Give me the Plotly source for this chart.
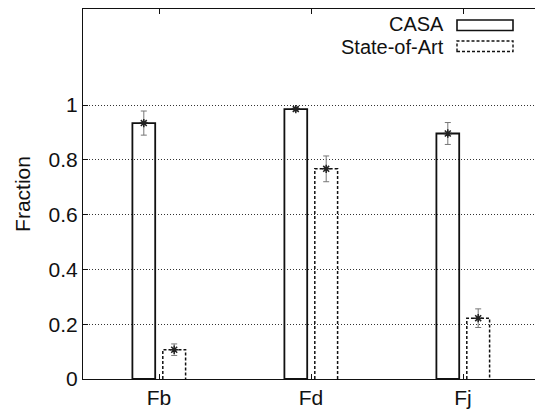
import plotly.graph_objects as go

categories = ["Fb", "Fd", "Fj"]
casa_values = [0.934, 0.985, 0.896]
casa_errors = [0.044, 0.007, 0.040]
sota_values = [0.107, 0.767, 0.222]
sota_errors = [0.021, 0.047, 0.034]
ytick_vals = [0, 0.2, 0.4, 0.6, 0.8, 1]
ytick_text = ["0", "0.2", "0.4", "0.6", "0.8", "1"]

FONT = "Liberation Sans, Arial, Helvetica, sans-serif"
FS = 21
BARGAP = 0.6
GROUPGAP = 0.25
slot = (1 - BARGAP) / 2
bar_w = slot * (1 - GROUPGAP)
xs = list(range(len(categories)))
casa_x = [i - slot / 2 for i in xs]
sota_x = [i + slot / 2 for i in xs]

fig = go.Figure()
fig.add_trace(go.Bar(x=xs, y=casa_values, name="CASA", offsetgroup="a",
                     marker=dict(color="rgba(0,0,0,0)", line=dict(color="#111", width=1.8)),
                     showlegend=False))
fig.add_trace(go.Bar(x=xs, y=sota_values, name="State-of-Art", offsetgroup="b",
                     marker=dict(color="rgba(0,0,0,0)", line=dict(width=0)),
                     showlegend=False))

# dashed outline for State-of-Art bars
ox, oy = [], []
for cx, v in zip(sota_x, sota_values):
    x0, x1 = cx - bar_w / 2, cx + bar_w / 2
    ox += [x0, x0, x1, x1, None]
    oy += [0, v, v, 0, None]
fig.add_trace(go.Scatter(x=ox, y=oy, mode="lines", line=dict(color="#111", width=1.5, dash="3px,2px"),
                         showlegend=False, hoverinfo="skip"))

for px, vals, errs in [(casa_x, casa_values, casa_errors), (sota_x, sota_values, sota_errors)]:
    fig.add_trace(go.Scatter(x=px, y=vals, mode="markers",
                             marker=dict(symbol="asterisk-open", size=7, color="#222",
                                         line=dict(color="#222", width=1.5)),
                             error_y=dict(type="data", array=errs, visible=True,
                                          color="#777", thickness=1, width=3),
                             showlegend=False, hoverinfo="skip"))

L, T, B = 83, 9, 31
W, H = 535, 410
pw = W - L
ph = H - T - B

def px_x(p):
    return (p - L) / pw

def px_y(p):
    return (H - B - p) / ph

# legend (gnuplot style: text then sample box)
fig.add_annotation(x=px_x(445), y=px_y(24), xref="paper", yref="paper", text="CASA",
                   showarrow=False, xanchor="right", yanchor="middle", borderpad=0,
                   font=dict(family=FONT, size=20, color="#111"))
fig.add_annotation(x=px_x(445), y=px_y(47), xref="paper", yref="paper", text="State-of-Art",
                   showarrow=False, xanchor="right", yanchor="middle", borderpad=0,
                   font=dict(family=FONT, size=20, color="#111"))
fig.add_shape(type="rect", xref="paper", yref="paper", x0=px_x(457), x1=px_x(513),
              y0=px_y(30.5), y1=px_y(20), line=dict(color="#111", width=1.6))
fig.add_shape(type="rect", xref="paper", yref="paper", x0=px_x(457), x1=px_x(513),
              y0=px_y(51.5), y1=px_y(41), line=dict(color="#111", width=1.4, dash="3px,2px"))

fig.update_layout(
    width=W, height=H,
    margin=dict(l=L, r=0, t=T, b=B),
    paper_bgcolor="white", plot_bgcolor="white",
    barmode="group", bargap=BARGAP, bargroupgap=GROUPGAP,
    font=dict(family=FONT, size=FS, color="#111"),
    showlegend=False,
)
fig.update_xaxes(range=[-0.5, -0.5 + pw / 152.0], tickmode="array", tickvals=xs, ticktext=categories,
                 showgrid=False, zeroline=False, showline=True, linecolor="#111", linewidth=1.2,
                 mirror="ticks", ticks="inside", ticklen=5, tickcolor="#111",
                 tickfont=dict(family=FONT, size=FS, color="#111"))
fig.update_yaxes(range=[0, (H - B - T) / 274.0], tickmode="array", tickvals=ytick_vals, ticktext=ytick_text,
                 showgrid=True, gridcolor="#333", griddash="1px,2px", gridwidth=1,
                 zeroline=False, showline=True, linecolor="#111", linewidth=1.2,
                 ticks="inside", ticklen=5, tickcolor="#111",
                 tickfont=dict(family=FONT, size=FS, color="#111"),
                 title=dict(text="Fraction", font=dict(family=FONT, size=FS, color="#111"), standoff=12))

fig.write_html("out.html")
